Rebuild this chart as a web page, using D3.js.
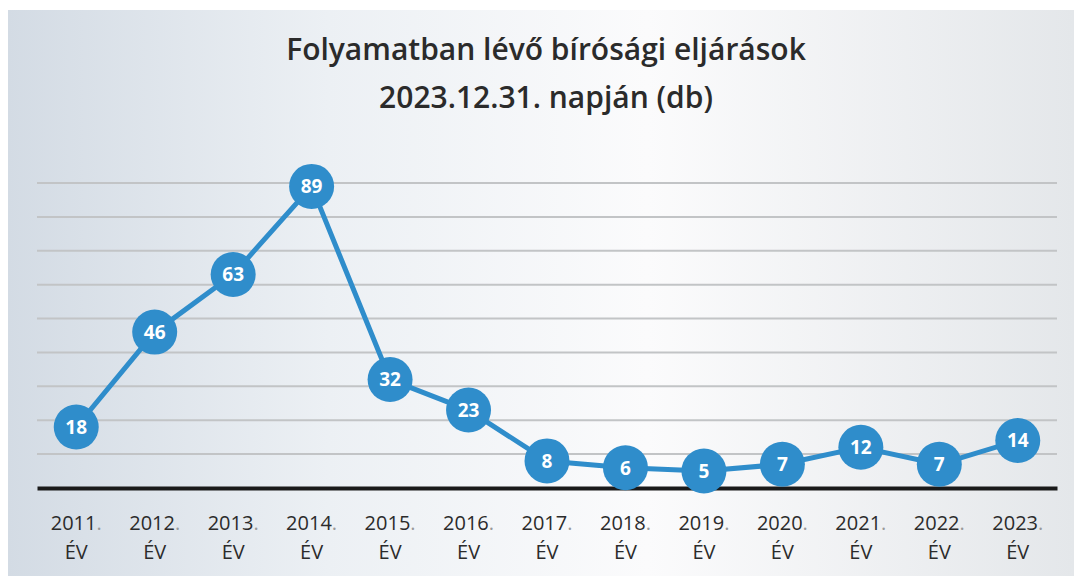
<!DOCTYPE html>
<html>
<head>
<meta charset="utf-8">
<script src="https://cdn.jsdelivr.net/npm/d3@7"></script>
<style>
  body { margin: 0; background: #fff; }
  svg { display: block; }
</style>
</head>
<body>
<svg id="chart" width="1074" height="576"></svg>
<script>
// Data
var years = ["2011", "2012", "2013", "2014", "2015", "2016", "2017", "2018", "2019", "2020", "2021", "2022", "2023"];
var counts = [18, 46, 63, 89, 32, 23, 8, 6, 5, 7, 12, 7, 14];
var gridValues = [10, 20, 30, 40, 50, 60, 70, 80, 90];
var titleLines = ["Folyamatban lévő bírósági eljárások", "2023.12.31. napján (db)"];

var svg = d3.select("#chart");

// scanned paper look: greyish-blue left edge, white middle
var defs = svg.append("defs");
var grad = defs.append("linearGradient").attr("id", "paper");
grad.append("stop").attr("offset", "0%").attr("stop-color", "#d3dbe4");
grad.append("stop").attr("offset", "30%").attr("stop-color", "#ecf0f4");
grad.append("stop").attr("offset", "60%").attr("stop-color", "#fbfbfc");
grad.append("stop").attr("offset", "100%").attr("stop-color", "#e4e7ea");

svg.append("rect")
  .attr("x", 8).attr("y", 10)
  .attr("width", 1066).attr("height", 566)
  .attr("fill", "url(#paper)");

var x = d3.scaleBand().domain(years).range([37, 1057]);
var y = d3.scaleLinear().domain([0, 90]).range([488, 183]);

// title
svg.append("g").selectAll("text")
  .data(titleLines)
  .join("text")
  .attr("x", 546)
  .attr("y", function (d, i) { return 60 + i * 48; })
  .attr("text-anchor", "middle")
  .attr("font-family", "'Open Sans', sans-serif")
  .attr("font-weight", 600)
  .attr("font-size", 30)
  .attr("fill", "#2b2b2b")
  .text(function (d) { return d; });

// horizontal grid
svg.append("g").selectAll("line")
  .data(gridValues)
  .join("line")
  .attr("x1", 37).attr("x2", 1057)
  .attr("y1", function (d) { return y(d); })
  .attr("y2", function (d) { return y(d); })
  .attr("stroke", "#c2c4c6")
  .attr("stroke-width", 2);

// x axis: thick black baseline, two-line labels
var xAxis = svg.append("g")
  .attr("transform", "translate(0," + y(0) + ")")
  .call(d3.axisBottom(x).tickSize(0).tickFormat(""));
xAxis.select(".domain").attr("stroke", "#1a1a1a").attr("stroke-width", 4);

var ticks = xAxis.selectAll(".tick");
ticks.append("text")
  .attr("y", 42)
  .attr("text-anchor", "middle")
  .attr("font-family", "'Open Sans', sans-serif")
  .attr("font-size", 20)
  .attr("fill", "#2b2b2b")
  .html(function (d) { return d + "<tspan fill='#9a9a9a'>.</tspan>"; });
ticks.append("text")
  .attr("y", 71)
  .attr("text-anchor", "middle")
  .attr("font-family", "'Open Sans', sans-serif")
  .attr("font-size", 20)
  .attr("fill", "#2b2b2b")
  .text("ÉV");

var points = years.map(function (yr, i) { return { year: yr, value: counts[i] }; });
var cx = function (d) { return x(d.year) + x.bandwidth() / 2; };

var line = d3.line()
  .x(cx)
  .y(function (d) { return y(d.value); });

svg.append("path")
  .datum(points)
  .attr("d", line)
  .attr("fill", "none")
  .attr("stroke", "#2f8dcb")
  .attr("stroke-width", 5)
  .attr("stroke-linejoin", "round");

var markers = svg.append("g").selectAll("g")
  .data(points)
  .join("g")
  .attr("transform", function (d) { return "translate(" + cx(d) + "," + y(d.value) + ")"; });

markers.append("circle")
  .attr("r", 22.5)
  .attr("fill", "#2f8dcb");

markers.append("text")
  .attr("dy", "0.36em")
  .attr("text-anchor", "middle")
  .attr("font-family", "'Open Sans', sans-serif")
  .attr("font-weight", 700)
  .attr("font-size", 19)
  .attr("fill", "#fff")
  .text(function (d) { return d.value; });
</script>
</body>
</html>
